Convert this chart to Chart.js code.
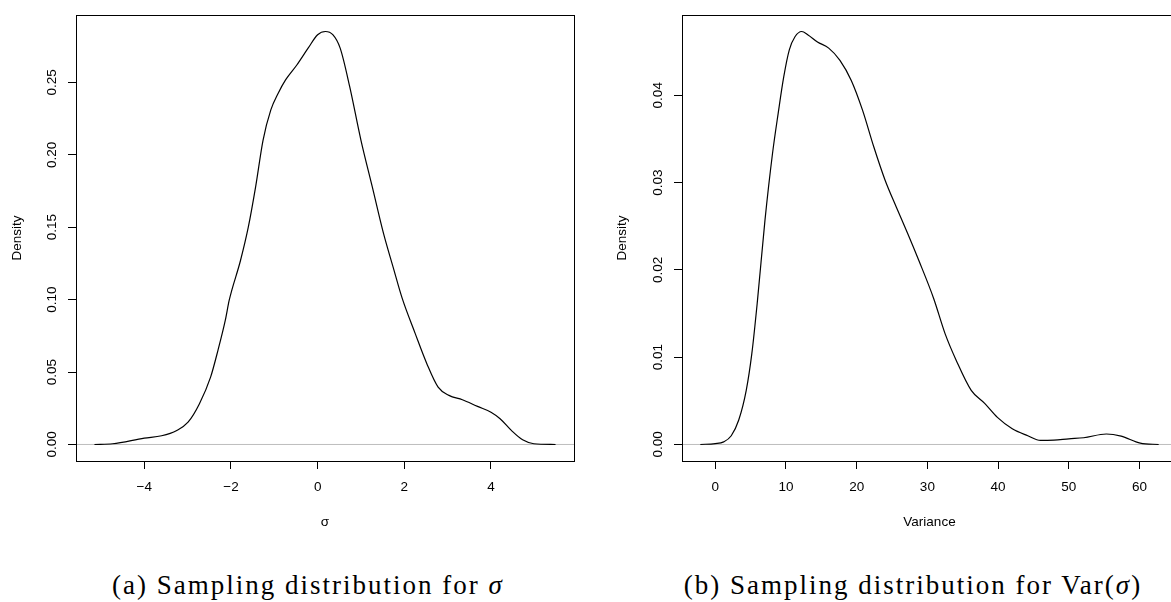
<!DOCTYPE html>
<html>
<head>
<meta charset="utf-8">
<script src="https://cdn.jsdelivr.net/npm/chart.js@4.4.1/dist/chart.umd.min.js"></script>
<style>
  html, body { margin: 0; padding: 0; background: #fff; width: 1171px; height: 602px; overflow: hidden; }
  canvas { position: absolute; top: 0; }
  #cvSigma { left: 0; }
  #cvVar { left: 585px; }
  .caption {
    position: absolute; top: 572px;
    font-family: "Liberation Serif", "Times New Roman", serif;
    font-size: 27px; line-height: 27px; letter-spacing: 2px;
    white-space: nowrap; color: #000; transform: translateX(-50%);
  }
</style>
</head>
<body>
<canvas id="cvSigma" width="585" height="560"></canvas>
<canvas id="cvVar" width="600" height="560"></canvas>
<div class="caption" style="left:308px">(a) Sampling distribution for <i>σ</i></div>
<div class="caption" style="left:913px">(b) Sampling distribution for Var(<i>σ</i>)</div>

<script>
// ============================================================
//  Density curves
// ============================================================

// (a) sigma
const sigmaX = [-5.15, -4.73, -4.0, -3.6, -3.25, -2.99, -2.73, -2.47, -2.3, -2.13, -2.04,
  -1.78, -1.6, -1.43, -1.26, -1.08, -0.91, -0.74, -0.48, -0.22, 0.0, 0.18, 0.35, 0.52,
  0.74, 1.0, 1.26, 1.52, 1.74, 1.95, 2.25, 2.52, 2.78, 3.03, 3.34, 3.69, 4.0, 4.21,
  4.47, 4.73, 4.99, 5.49];
const sigmaY = [0, 0.0005, 0.0044, 0.006, 0.0097, 0.0154, 0.028, 0.0465, 0.065, 0.0858, 0.0996,
  0.127, 0.150, 0.178, 0.210, 0.231, 0.2425, 0.2517, 0.262, 0.2736, 0.2829, 0.2851, 0.2829, 0.2736,
  0.247, 0.210, 0.178, 0.1457, 0.1226, 0.101, 0.0767, 0.0558, 0.0396, 0.0339, 0.0309, 0.0263, 0.0223, 0.0178,
  0.0097, 0.0032, 0.0005, 0];
const sigmaXTicks = [-4, -2, 0, 2, 4];
const sigmaYTicks = [0, 0.05, 0.10, 0.15, 0.20, 0.25];

// (b) variance
const varX = [-2.1, 0, 1.2, 2.27, 3.33, 4.39, 5.18, 5.98, 7.04, 8.1, 8.9, 9.69, 10.48, 11.28,
  12.23, 13.13, 14.46, 16.05, 17.64, 19.24, 20.83, 22.42, 24.01, 25.6, 27.2, 28.78, 30.9,
  32.5, 34.1, 36.2, 38.1, 39.9, 42.0, 44.2, 46.0, 47.9, 50.0, 52.1, 55.3, 57.4, 60.1, 62.7];
const varY = [0, 0.0001, 0.0003, 0.001, 0.0028, 0.0062, 0.0104, 0.0165, 0.0257, 0.0333, 0.0379, 0.0421, 0.0452, 0.0467,
  0.0473, 0.0469, 0.0461, 0.0454, 0.044, 0.0417, 0.0383, 0.0341, 0.0303, 0.0272, 0.0242, 0.0211, 0.0167,
  0.0127, 0.0096, 0.0062, 0.0047, 0.0031, 0.0018, 0.001, 0.00046, 0.0005, 0.00065, 0.00077, 0.0012, 0.00095, 0.00015, 0];
const varXTicks = [0, 10, 20, 30, 40, 50, 60];
const varYTicks = [0, 0.01, 0.02, 0.03, 0.04];

const COLORS = {
  curve: "#000000",
  zero:  "#bebebe",
  axis:  "#000000",
  text:  "#000000",
};
const FONT = "'Liberation Sans', Arial, Helvetica, sans-serif";
const FONT_SIZE = 13.5;

// box around the plot region, like R's box()
const framePlugin = {
  id: "frame",
  afterDraw(chart) {
    const { ctx, chartArea: a } = chart;
    ctx.save();
    ctx.strokeStyle = COLORS.axis;
    ctx.lineWidth = 1;
    ctx.strokeRect(Math.round(a.left) + 0.5, Math.round(a.top) + 0.5,
      Math.round(a.right - a.left), Math.round(a.bottom - a.top));
    ctx.restore();
  },
};

// R pads axis ranges by 4% on each side
function extendRange(vals) {
  const lo = Math.min(...vals), hi = Math.max(...vals);
  const d = (hi - lo) * 0.04;
  return [lo - d, hi + d];
}

function fmtX(v) {
  return v < 0 ? "\u2212" + Math.abs(v) : String(v);
}

function renderDensity(canvasId, xs, ys, xTicks, yTicks, xTitle, box) {
  const canvas = document.getElementById(canvasId);
  const [xMin, xMax] = extendRange(xs);
  const [yMin, yMax] = extendRange([0, ...ys]);
  const font = { family: FONT, size: FONT_SIZE };

  new Chart(canvas, {
    type: "line",
    data: {
      datasets: [
        {
          data: xs.map((x, i) => ({ x, y: ys[i] })),
          borderColor: COLORS.curve,
          borderWidth: 1.2,
          pointRadius: 0,
          cubicInterpolationMode: "monotone",
          fill: false,
        },
        {
          data: [{ x: xMin, y: 0 }, { x: xMax, y: 0 }],
          borderColor: COLORS.zero,
          borderWidth: 1,
          pointRadius: 0,
          fill: false,
        },
      ],
    },
    options: {
      responsive: false,
      animation: false,
      events: [],
      layout: { padding: { top: 15, right: box.padRight, bottom: 0, left: 0 } },
      plugins: { legend: { display: false }, tooltip: { enabled: false } },
      scales: {
        x: {
          type: "linear",
          min: xMin,
          max: xMax,
          border: { display: false },
          grid: { drawOnChartArea: false, drawTicks: true, tickLength: 8, color: COLORS.axis, tickColor: COLORS.axis },
          ticks: { color: COLORS.text, font, padding: 10, autoSkip: false, maxRotation: 0, callback: fmtX },
          title: { display: true, text: xTitle, color: COLORS.text, font, padding: { top: 0, bottom: 30 } },
          afterBuildTicks: (s) => { s.ticks = xTicks.map((v) => ({ value: v })); },
          afterFit: (s) => { s.height = box.xAxisHeight; s.paddingLeft = 0; s.paddingRight = 0; },
        },
        y: {
          type: "linear",
          min: yMin,
          max: yMax,
          border: { display: false },
          grid: { drawOnChartArea: false, drawTicks: true, tickLength: 8, color: COLORS.axis, tickColor: COLORS.axis },
          ticks: {
            color: COLORS.text, font, padding: 3, autoSkip: false,
            minRotation: 90, maxRotation: 90, crossAlign: "center",
            callback: (v) => v.toFixed(2),
          },
          title: { display: true, text: "Density", color: COLORS.text, font, padding: { top: box.titlePad, bottom: 0 } },
          afterBuildTicks: (s) => { s.ticks = yTicks.map((v) => ({ value: v })); },
          afterFit: (s) => { s.width = box.yAxisWidth; s.paddingTop = 0; s.paddingBottom = 0; },
        },
      },
    },
    plugins: [framePlugin],
  });
}

renderDensity("cvSigma", sigmaX, sigmaY, sigmaXTicks, sigmaYTicks, "σ",
  { yAxisWidth: 76, xAxisHeight: 99, padRight: 11, titlePad: 9 });
renderDensity("cvVar", varX, varY, varXTicks, varYTicks, "Variance",
  { yAxisWidth: 97, xAxisHeight: 99, padRight: 8, titlePad: 29 });
</script>
</body>
</html>
